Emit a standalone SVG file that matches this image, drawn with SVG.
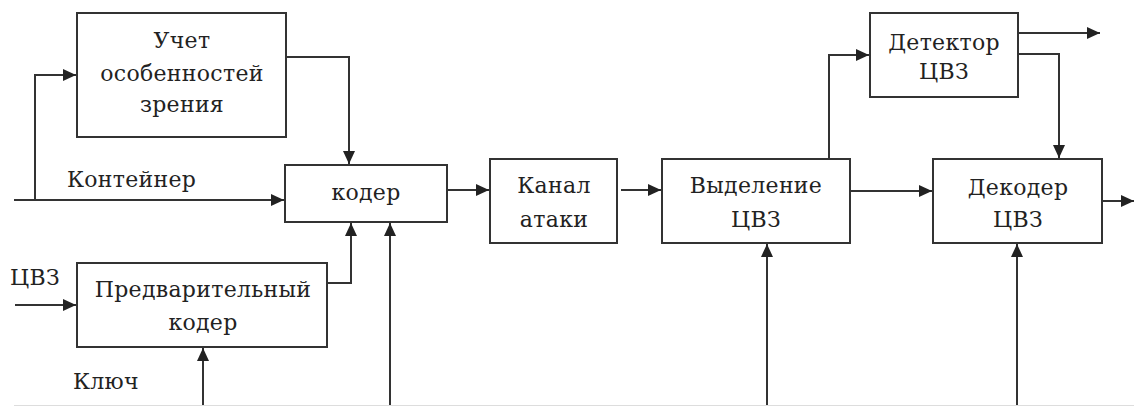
<svg xmlns="http://www.w3.org/2000/svg" width="1134" height="407" viewBox="0 0 1134 407">
<style>
.box{fill:#fff;stroke:#333;stroke-width:2}
.ln{fill:none;stroke:#333;stroke-width:2}
.arr{marker-end:url(#ah)}
.t{font-size:22px;fill:#222;letter-spacing:0.3px}
.c{text-anchor:middle}
</style>
<defs>
<marker id="ah" markerUnits="userSpaceOnUse" markerWidth="14" markerHeight="12" refX="13" refY="6" orient="auto">
<path d="M0,0 L13,6 L0,12 z" fill="#222"/>
</marker>
</defs>
<rect x="0" y="0" width="1134" height="407" fill="#fff"/>
<line x1="14" y1="405.5" x2="1134" y2="405.5" stroke="#ddd" stroke-width="1"/>
<g id="connectors">
<path class="ln arr" d="M14,200 H284"/>
<path class="ln arr" d="M35,200 V75 H76"/>
<path class="ln arr" d="M286,57 H349 V164"/>
<path class="ln arr" d="M327,283 H351 V223"/>
<path class="ln arr" d="M390,405 V223"/>
<path class="ln arr" d="M203,405 V348"/>
<path class="ln arr" d="M15,305 H76"/>
<path class="ln arr" d="M447,190 H489"/>
<path class="ln arr" d="M621,190 H661"/>
<path class="ln arr" d="M829,159 V55 H869"/>
<path class="ln arr" d="M850,191 H932"/>
<path class="ln arr" d="M1018,33 H1100"/>
<path class="ln arr" d="M1018,54 H1059 V158"/>
<path class="ln arr" d="M1102,201 H1134"/>
<path class="ln arr" d="M767,405 V244"/>
<path class="ln arr" d="M1017,405 V244"/>
</g>
<g font-family="DejaVu Serif, Noto Serif, Liberation Serif, serif">
<g id="uchet">
<rect class="box" x="77" y="13" width="209" height="124"/>
<text class="t c" x="182" y="48">Учет</text>
<text class="t c" x="182" y="81">особенностей</text>
<text class="t c" x="182" y="112">зрения</text>
</g>
<g id="koder">
<rect class="box" x="285" y="165" width="162" height="57"/>
<text class="t c" x="366" y="200">кодер</text>
</g>
<g id="predv">
<rect class="box" x="77" y="263" width="250" height="84"/>
<text class="t c" x="203" y="297">Предварительный</text>
<text class="t c" x="203" y="330">кодер</text>
</g>
<g id="kanal">
<rect class="box" x="490" y="159" width="127" height="84"/>
<text class="t c" x="554" y="193">Канал</text>
<text class="t c" x="554" y="227">атаки</text>
</g>
<g id="vydelenie">
<rect class="box" x="662" y="159" width="188" height="84"/>
<text class="t c" x="756" y="193">Выделение</text>
<text class="t c" x="756" y="227">ЦВЗ</text>
</g>
<g id="detektor">
<rect class="box" x="870" y="13" width="148" height="84"/>
<text class="t c" x="944" y="50">Детектор</text>
<text class="t c" x="944" y="79">ЦВЗ</text>
</g>
<g id="dekoder">
<rect class="box" x="933" y="159" width="169" height="84"/>
<text class="t c" x="1018" y="195">Декодер</text>
<text class="t c" x="1018" y="227">ЦВЗ</text>
</g>
<g id="labels">
<text class="t" x="67" y="187">Контейнер</text>
<text class="t" x="10" y="285">ЦВЗ</text>
<text class="t" x="73" y="389">Ключ</text>
</g>
</g>
</svg>
